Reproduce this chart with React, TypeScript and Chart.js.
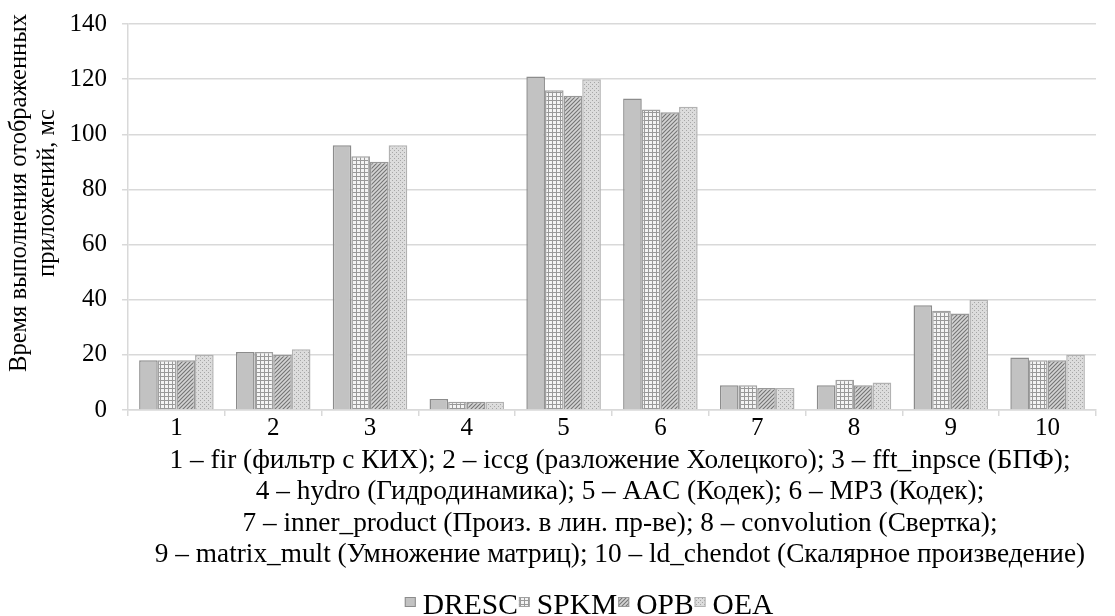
import React, { useEffect, useRef } from "react";
import { Chart, registerables } from "chart.js";

Chart.register(...registerables);

const categories = ["1", "2", "3", "4", "5", "6", "7", "8", "9", "10"];
const seriesNames = ["DRESC", "SPKM", "OPB", "OEA"];
const drescValues = [18, 21, 96, 4, 121, 113, 9, 9, 38, 19];
const spkmValues = [18, 21, 92, 3, 116, 109, 9, 11, 36, 18];
const opbValues = [18, 20, 90, 3, 114, 108, 8, 9, 35, 18];
const oeaValues = [20, 22, 96, 3, 120, 110, 8, 10, 40, 20];
const yTitleLines = ["Время выполнения отображенных", "приложений, мс"];
const captionLines = [
  "1 – fir (фильтр с КИХ); 2 – iccg (разложение Холецкого); 3 – fft_inpsce (БПФ);",
  "4 – hydro (Гидродинамика); 5 – AAC (Кодек); 6 – MP3 (Кодек);",
  "7 – inner_product (Произ. в лин. пр-ве); 8 – convolution (Свертка);",
  "9 – matrix_mult (Умножение матриц); 10 – ld_chendot (Скалярное произведение)",
];

const FONT = "'Liberation Serif', 'Times New Roman', serif";

function makePattern(kind: string): CanvasPattern | string {
  const c = document.createElement("canvas");
  const s = 4;
  c.width = s;
  c.height = s;
  const g = c.getContext("2d");
  if (!g) return "#c8c8c8";
  if (kind === "grid") {
    g.fillStyle = "#f4f4f4";
    g.fillRect(0, 0, s, s);
    g.fillStyle = "#999999";
    g.fillRect(0, 0, s, 1);
    g.fillRect(0, 0, 1, s);
  } else if (kind === "diag") {
    g.fillStyle = "#d4d4d4";
    g.fillRect(0, 0, s, s);
    g.strokeStyle = "#747474";
    g.lineWidth = 1.1;
    g.beginPath();
    g.moveTo(-1, s + 1);
    g.lineTo(s + 1, -1);
    g.moveTo(-1, 1);
    g.lineTo(1, -1);
    g.moveTo(s - 1, s + 1);
    g.lineTo(s + 1, s - 1);
    g.stroke();
  } else {
    g.fillStyle = "#dcdcdc";
    g.fillRect(0, 0, s, s);
    g.fillStyle = "#a6a6a6";
    g.fillRect(0, 0, 1, 1);
    g.fillRect(2, 2, 1, 1);
  }
  const p = g.createPattern(c, "repeat");
  return p || "#c8c8c8";
}

export default function App() {
  const ref = useRef<HTMLCanvasElement | null>(null);

  useEffect(() => {
    document.body.style.margin = "0";
    if (!ref.current) return;
    const fills = ["#c2c2c2", makePattern("grid"), makePattern("diag"), makePattern("dots")];
    const borders = ["#8c8c8c", "#a0a0a0", "#989898", "#b2b2b2"];
    const values = [drescValues, spkmValues, opbValues, oeaValues];

    const textPlugin = {
      id: "textPlugin",
      afterDraw(chart: any) {
        const ctx = chart.ctx;
        const area = chart.chartArea;
        ctx.save();
        ctx.fillStyle = "#000";
        // y axis title
        ctx.font = `24.5px ${FONT}`;
        ctx.textAlign = "center";
        ctx.textBaseline = "middle";
        ctx.save();
        ctx.translate(20, 193);
        ctx.rotate(-Math.PI / 2);
        ctx.fillText(yTitleLines[0], 0, 0);
        ctx.fillText(yTitleLines[1], 0, 28);
        ctx.restore();
        // caption
        ctx.font = `27.3px ${FONT}`;
        const capCenterX = 620;
        captionLines.forEach((line, i) => {
          ctx.fillText(line, capCenterX, area.bottom + 51 + i * 31.3);
        });
        // legend
        ctx.font = `29.5px ${FONT}`;
        ctx.textAlign = "left";
        ctx.textBaseline = "alphabetic";
        const boxW = 11;
        const boxH = 10;
        const textOff = 18;
        const gap = 1;
        const widths = seriesNames.map((n) => ctx.measureText(n).width);
        const total = widths.reduce((a: number, w: number) => a + w + textOff, 0) + gap * (seriesNames.length - 1);
        let x = 589 - total / 2;
        const baseY = area.bottom + 204;
        seriesNames.forEach((name, i) => {
          ctx.fillStyle = fills[i] as any;
          ctx.fillRect(x, baseY - 17, boxW, boxH);
          ctx.strokeStyle = borders[i];
          ctx.lineWidth = 1;
          ctx.strokeRect(x + 0.5, baseY - 16.5, boxW - 1, boxH - 1);
          ctx.fillStyle = "#000";
          ctx.fillText(name, x + textOff, baseY);
          x += textOff + widths[i] + gap;
        });
        ctx.restore();
      },
    };

    const chart = new Chart(ref.current, {
      type: "bar",
      data: {
        labels: categories,
        datasets: seriesNames.map((name, i) => ({
          label: name,
          data: values[i],
          backgroundColor: fills[i] as any,
          borderColor: borders[i],
          borderWidth: 1.5,
          categoryPercentage: 0.77,
          barPercentage: 1,
        })),
      },
      options: {
        animation: false,
        responsive: true,
        maintainAspectRatio: false,
        layout: { padding: { top: 24, right: 19, left: 0, bottom: 175 } },
        scales: {
          x: {
            afterFit: (scale: any) => {
              scale.paddingLeft = 0;
              scale.paddingRight = 0;
            },
            grid: {
              offset: true,
              drawOnChartArea: false,
              tickLength: 6,
              color: "#d9d9d9",
              lineWidth: 1.5,
            },
            border: { color: "#d9d9d9", width: 1.5 },
            ticks: { color: "#000", font: { family: FONT, size: 25, lineHeight: 1 }, padding: 0 },
          },
          y: {
            min: 0,
            max: 140,
            afterFit: (scale: any) => {
              scale.width = 128;
              scale.paddingTop = 0;
              scale.paddingBottom = 0;
            },
            ticks: { stepSize: 20, color: "#000", font: { family: FONT, size: 25 }, padding: 15 },
            grid: { color: "#d9d9d9", lineWidth: 1.5, tickLength: 6 },
            border: { color: "#d9d9d9", width: 1.5 },
          },
        },
        plugins: {
          tooltip: { enabled: false },
          title: { display: false },
          legend: { display: false },
        },
      },
      plugins: [textPlugin],
    });
    return () => chart.destroy();
  }, []);

  return (
    <div style={{ position: "relative", width: 1115, height: 616 }}>
      <canvas ref={ref} />
    </div>
  );
}
